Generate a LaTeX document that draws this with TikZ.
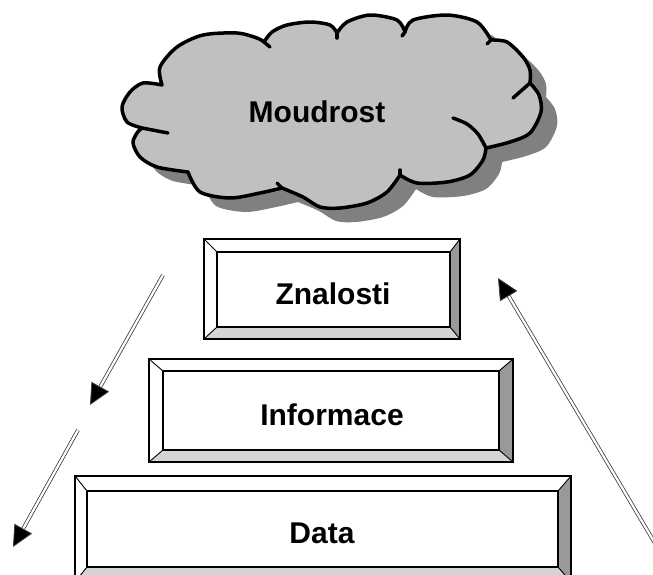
\documentclass[tikz,border=0pt]{standalone}
\usepackage{fontspec}
\setmainfont{Liberation Sans}
\usetikzlibrary{arrows.meta}
\definecolor{cloudfill}{HTML}{C0C0C0}
\definecolor{cloudshade}{HTML}{808080}
\definecolor{facelight}{HTML}{D4D4D4}
\definecolor{facedark}{HTML}{999999}
% bevelled button: outer x1 y1 x2 y2, inner x1 y1 x2 y2
\newcommand\bevelbox[8]{%
  \fill[white] (#1,#2) -- (#3,#2) -- (#7,#6) -- (#5,#6) -- cycle;
  \fill[white] (#1,#2) -- (#5,#6) -- (#5,#8) -- (#1,#4) -- cycle;
  \fill[facelight] (#1,#4) -- (#5,#8) -- (#7,#8) -- (#3,#4) -- cycle;
  \fill[facedark] (#3,#2) -- (#7,#6) -- (#7,#8) -- (#3,#4) -- cycle;
  \draw[bevelthin] (#1,#2) -- (#5,#6) (#3,#2) -- (#7,#6)
                   (#1,#4) -- (#5,#8) (#3,#4) -- (#7,#8);
  \draw[bevelline] (#1,#2) rectangle (#3,#4);
  \draw[bevelline] (#5,#6) rectangle (#7,#8);
}
\tikzset{
  bevelline/.style={line width=1.6pt, line join=miter},
  bevelthin/.style={line width=0.9pt},
  label/.style={font=\fontsize{30}{36}\selectfont\bfseries, anchor=base, inner sep=0pt},
  cloudline/.style={line width=3.5pt, line cap=round, line join=round},
  flow/.style={draw=black!75, double=white, double distance=2.2pt, line width=0.8pt,
    -{Triangle[length=21pt,width=20pt,fill=black]}},
}
\begin{document}
\begin{tikzpicture}[x=1pt,y=-1pt]
\clip (0,0) rectangle (653,574);
\fill[white] (0,0) rectangle (653,574);

% cloud outline, lobe by lobe
\def\cloudpath{
  plot[smooth] coordinates {(142,128) (127,122) (122,107) (130,92) (143,83) (162,85)}
  -- plot[smooth] coordinates {(162,85) (160,67) (177,47) (203,35) (237,33) (257,38) (264,42)}
  -- plot[smooth] coordinates {(264,42) (272,32) (287,25) (310,22) (330,25) (337,33)}
  -- plot[smooth] coordinates {(337,33) (347,22) (370,15) (397,20) (405,32)}
  -- plot[smooth] coordinates {(405,32) (413,20) (447,15) (477,22) (491,40)}
  -- plot[smooth] coordinates {(491,40) (507,42) (523,57) (530,70) (530,83)}
  -- plot[smooth] coordinates {(530,83) (539,95) (541,112) (530,133) (510,142) (486,148)}
  -- plot[smooth] coordinates {(486,148) (483,160) (470,175) (447,182) (417,183) (400,175)}
  -- plot[smooth] coordinates {(400,175) (387,192) (367,203) (340,208) (320,207) (303,197) (282,188)}
  -- plot[smooth] coordinates {(282,188) (260,193) (230,198) (200,192) (188,172)}
  -- plot[smooth] coordinates {(188,172) (157,167) (140,157) (133,143) (137,133) (142,128)}
  -- cycle}
\fill[cloudshade, shift={(16pt,-14pt)}] \cloudpath;
\filldraw[cloudline, fill=cloudfill] \cloudpath;
% folds inside the cloud
\draw[cloudline] (264,42) -- (270,47);
\draw[cloudline] (337,33) -- (337,38);
\draw[cloudline] (405,32) -- (402,36);
\draw[cloudline] (491,40) -- (487,44);
\draw[cloudline] (530,83) -- (513,98);
\draw[cloudline] plot[smooth] coordinates {(453,118) (467,124) (478,134) (486,148)};
\draw[cloudline] (400,175) -- (400,170);
\draw[cloudline] (282,188) -- (277,183);
\draw[cloudline] (142,128) -- (168,133);
\node[label] (moudrost) at (317,122) {Moudrost};

% pyramid of bevelled boxes
\bevelbox{204}{239}{460}{339}{217}{252}{450}{327}
\node[label] (znalosti) at (333,304) {Znalosti};
\bevelbox{149}{359}{513}{462}{163}{371}{499}{450}
\node[label] (informace) at (332,425) {Informace};
\bevelbox{75}{476}{571}{582}{87}{491}{558}{567}
\node[label] (data) at (322,543) {Data};

% flow arrows
\coordinate (a1s) at (163,275);
\coordinate (a1e) at (90,405);
\coordinate (a2s) at (78,430);
\coordinate (a2e) at (13,547);
\coordinate (a3s) at (656,545);
\coordinate (a3e) at (498,278);
\draw[flow] (a1s) -- (a1e);
\draw[flow] (a2s) -- (a2e);
\draw[flow] (a3s) -- (a3e);
\end{tikzpicture}
\end{document}
